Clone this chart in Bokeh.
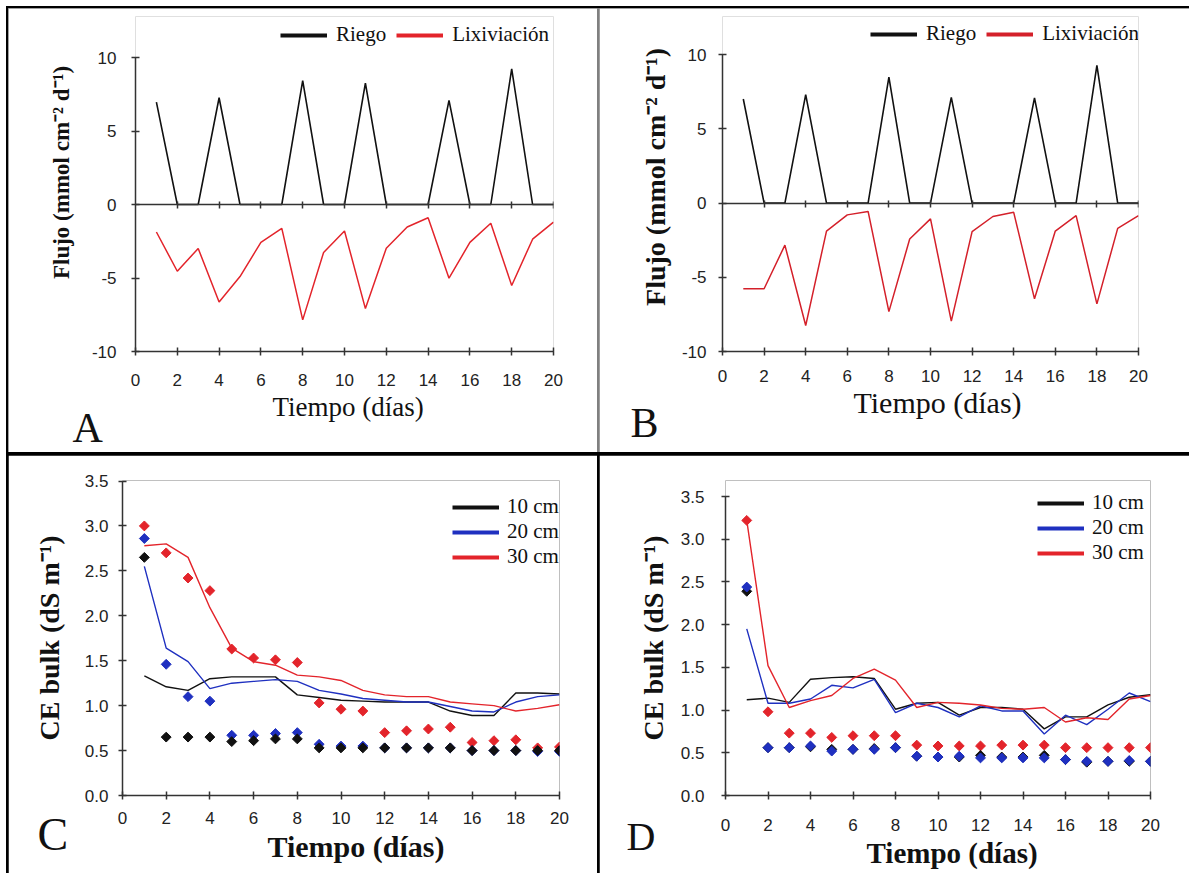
from bokeh.plotting import figure
from bokeh.models import (Range1d, LinearAxis, FixedTicker, Legend, LegendItem, Title,
                          NumeralTickFormatter, PrintfTickFormatter)
from bokeh.layouts import row, column
from bokeh.embed import file_html
from bokeh.resources import INLINE

# ---------------- data ----------------
days = list(range(1, 21))

riego_A = [6.97, 0, 0, 7.26, 0, 0, 0, 8.43, 0, 0, 8.25, 0, 0, 0, 7.08, 0, 0, 9.22, 0, 0]
lix_A = [-1.87, -4.54, -2.99, -6.63, -4.90, -2.58, -1.62, -7.85, -3.26, -1.80,
         -7.08, -2.97, -1.53, -0.90, -5.01, -2.58, -1.28, -5.51, -2.36, -1.20]

riego_B = [7.02, 0, 0, 7.31, 0, 0, 0, 8.49, 0, 0, 7.13, 0, 0, 0, 7.10, 0, 0, 9.28, 0, 0]
lix_B = [-5.77, -5.77, -2.83, -8.25, -1.88, -0.79, -0.56, -7.31, -2.42, -1.06,
         -7.95, -1.92, -0.90, -0.62, -6.45, -1.88, -0.84, -6.79, -1.70, -0.84]

C10_line = [1.33, 1.21, 1.17, 1.30, 1.32, 1.32, 1.32, 1.12, 1.09, 1.06, 1.05, 1.04, 1.04, 1.04, 0.94, 0.89, 0.89, 1.14, 1.14, 1.13]
C20_line = [2.55, 1.64, 1.49, 1.19, 1.25, 1.27, 1.29, 1.27, 1.17, 1.13, 1.08, 1.06, 1.04, 1.04, 0.99, 0.94, 0.93, 1.04, 1.10, 1.12]
C30_line = [2.78, 2.80, 2.65, 2.09, 1.64, 1.49, 1.45, 1.34, 1.32, 1.28, 1.17, 1.12, 1.10, 1.10, 1.04, 1.02, 1.00, 0.94, 0.97, 1.01]
C10_pts = [2.65, 0.65, 0.65, 0.65, 0.60, 0.61, 0.63, 0.63, 0.53, 0.53, 0.53, 0.53, 0.53, 0.53, 0.53, 0.50, 0.50, 0.50, 0.50, 0.50]
C20_pts = [2.86, 1.46, 1.10, 1.05, 0.67, 0.67, 0.69, 0.70, 0.57, 0.55, 0.55, 0.53, 0.53, 0.53, 0.53, 0.50, 0.50, 0.50, 0.49, 0.49]
C30_pts = [3.00, 2.70, 2.42, 2.28, 1.63, 1.53, 1.51, 1.48, 1.03, 0.96, 0.94, 0.70, 0.72, 0.74, 0.76, 0.59, 0.61, 0.62, 0.53, 0.54]

D10_line = [1.12, 1.14, 1.09, 1.36, 1.38, 1.39, 1.37, 1.01, 1.08, 1.09, 0.94, 1.03, 1.03, 1.01, 0.78, 0.92, 0.92, 1.06, 1.15, 1.18]
D20_line = [1.95, 1.08, 1.08, 1.13, 1.29, 1.26, 1.36, 0.97, 1.08, 1.03, 0.92, 1.05, 0.99, 0.99, 0.72, 0.94, 0.83, 1.01, 1.20, 1.10]
D30_line = [3.22, 1.52, 1.03, 1.11, 1.17, 1.37, 1.48, 1.35, 1.03, 1.09, 1.08, 1.06, 1.02, 1.01, 1.03, 0.86, 0.91, 0.89, 1.13, 1.17]
D10_pts = [2.39, 0.56, 0.56, 0.57, 0.54, 0.54, 0.55, 0.56, 0.46, 0.45, 0.45, 0.47, 0.45, 0.45, 0.47, 0.42, 0.39, 0.40, 0.40, 0.40]
D20_pts = [2.44, 0.56, 0.56, 0.58, 0.52, 0.54, 0.54, 0.56, 0.46, 0.45, 0.46, 0.44, 0.44, 0.44, 0.44, 0.42, 0.40, 0.40, 0.41, 0.40]
D30_pts = [3.22, 0.98, 0.73, 0.73, 0.68, 0.70, 0.70, 0.70, 0.59, 0.58, 0.58, 0.58, 0.59, 0.59, 0.59, 0.56, 0.56, 0.56, 0.56, 0.56]

x_ticks = [0, 2, 4, 6, 8, 10, 12, 14, 16, 18, 20]
flux_ticks = [-10, -5, 0, 5, 10]
ce_ticks = [0.0, 0.5, 1.0, 1.5, 2.0, 2.5, 3.0, 3.5]
depth_labels = ["10 cm", "20 cm", "30 cm"]
flux_labels = ["Riego", "Lixiviación"]
x_title = "Tiempo (días)"

SERIF = "Liberation Serif"
SANS = "Liberation Sans"
BLACK = "#111111"
RED = "#e3242b"
BLUE = "#1f30c0"
AX = "#333333"
NB = "\u00a0"


def y_range_for(frame_top, frame_bottom, v_top, px_top, v_bot, px_bot):
    scale = (px_bot - px_top) / (v_top - v_bot)
    return (v_bot - (frame_bottom - px_bot) / scale, v_top + (px_top - frame_top) / scale)


def make_fig(w, h, left, right, top, bottom, yr):
    p = figure(width=w, height=h, min_border_left=left, min_border_right=right,
               min_border_top=top, min_border_bottom=bottom,
               x_range=Range1d(0, 20), y_range=Range1d(*yr),
               output_backend="svg", toolbar_location=None, tools="")
    p.xgrid.visible = False
    p.ygrid.visible = False
    p.outline_line_color = None
    p.background_fill_color = "white"
    p.border_fill_color = "white"
    for ax in (p.xaxis[0], p.yaxis[0]):
        ax.axis_line_color = AX
        ax.axis_line_width = 1.5
        ax.major_tick_line_color = AX
        ax.major_tick_line_width = 1.5
        ax.major_tick_in = 4
        ax.major_tick_out = 4
        ax.minor_tick_line_color = None
        ax.major_label_text_font = SANS
        ax.major_label_text_font_size = "17px"
        ax.major_label_text_color = "#222222"
        ax.axis_label_text_font = SERIF
        ax.axis_label_text_color = "#111111"
    p.xaxis[0].ticker = FixedTicker(ticks=x_ticks)
    return p


def add_title(p, txt, fs, style, offset, standoff):
    p.add_layout(Title(text=txt, align="left", offset=offset, standoff=standoff,
                       vertical_align="top", text_font=SERIF, text_font_size=fs,
                       text_font_style=style, text_color="#111111"), "below")


def flux_panel(w, h, left, right, top, bottom, px_top, px_bot, riego, lix, red,
               ylab, ylab_fs, ylab_standoff, ytick_standoff, xtick_standoff,
               xlab_fs, xlab_offset, xlab_so, leg_loc, letter, letter_offset, letter_so):
    yr = y_range_for(top, h - bottom, 10, px_top, -10, px_bot)
    p = make_fig(w, h, left, right, top, bottom, yr)
    ya, xa = p.yaxis[0], p.xaxis[0]
    ya.ticker = FixedTicker(ticks=flux_ticks)
    ya.formatter = PrintfTickFormatter(format="%d")
    ya.bounds = (-10, 10)
    ya.axis_label = ylab
    ya.axis_label_text_font_size = ylab_fs
    ya.axis_label_text_font_style = "bold"
    ya.axis_label_standoff = ylab_standoff
    ya.major_label_standoff = ytick_standoff
    xa.major_label_standoff = xtick_standoff
    zero = LinearAxis(fixed_location=0, ticker=FixedTicker(ticks=x_ticks[1:]),
                      major_label_text_font_size="1px", major_label_text_color=None,
                      major_label_standoff=0,
                      axis_line_color=AX, axis_line_width=1.5,
                      major_tick_line_color=AX, major_tick_line_width=1.5,
                      major_tick_in=3, major_tick_out=4, minor_tick_line_color=None)
    p.add_layout(zero, "below")
    add_title(p, x_title, xlab_fs, "normal", xlab_offset, xlab_so)
    add_title(p, letter, "42px", "normal", letter_offset, letter_so)
    p.line(days, riego, line_color=BLACK, line_width=1.6)
    p.line(days, lix, line_color=red, line_width=1.5)
    g1 = p.line(days, riego, line_color=BLACK, line_width=4, visible=False)
    g2 = p.line(days, lix, line_color=red, line_width=4, visible=False)
    leg = Legend(items=[LegendItem(label=flux_labels[0], renderers=[g1]),
                        LegendItem(label=flux_labels[1], renderers=[g2])],
                 orientation="horizontal", location=leg_loc, padding=0, margin=0,
                 spacing=10, glyph_width=47, glyph_height=24, label_standoff=9,
                 background_fill_alpha=0, border_line_color=None,
                 inactive_fill_alpha=0,
                 label_text_font=SERIF, label_text_font_size="21px",
                 label_text_color="#111111")
    p.add_layout(leg)
    return p


def ce_panel(w, h, left, right, top, bottom, px_top, px_bot, lines, pts, draw_order,
             ylab_standoff, ytick_standoff, xtick_standoff, xlab_fs, xlab_offset, xlab_so,
             leg_loc, letter, letter_fs, letter_offset, letter_so):
    yr = y_range_for(top, h - bottom, 3.5, px_top, 0.0, px_bot)
    p = make_fig(w, h, left, right, top, bottom, yr)
    ya, xa = p.yaxis[0], p.xaxis[0]
    ya.ticker = FixedTicker(ticks=ce_ticks)
    ya.formatter = NumeralTickFormatter(format="0.0")
    ya.bounds = (0, 3.5)
    ya.axis_label = "CE bulk (dS m⁻¹)"
    ya.axis_label_text_font_size = "28px"
    ya.axis_label_text_font_style = "bold"
    ya.axis_label_standoff = ylab_standoff
    ya.major_label_standoff = ytick_standoff
    xa.major_label_standoff = xtick_standoff
    add_title(p, letter, letter_fs, "normal", letter_offset, letter_so)
    add_title(p, x_title, xlab_fs, "bold", xlab_offset, xlab_so)
    cols = [BLACK, BLUE, RED]
    for vals, c in zip(lines, cols):
        p.line(days, vals, line_color=c, line_width=1.4)
    for i in draw_order:
        p.scatter(days, pts[i], marker="square", angle=0.785398, size=7,
                  fill_color=cols[i], line_color=cols[i], line_width=1)
    gl = [p.line(days, vals, line_color=c, line_width=4, visible=False)
          for vals, c in zip(lines, cols)]
    leg = Legend(items=[LegendItem(label=t, renderers=[g]) for t, g in zip(depth_labels, gl)],
                 orientation="vertical", location=leg_loc, padding=0, margin=0,
                 spacing=0, glyph_width=47, glyph_height=24, label_standoff=8,
                 background_fill_alpha=0, border_line_color=None, inactive_fill_alpha=0,
                 label_text_font=SERIF, label_text_font_size="21px",
                 label_text_color="#111111")
    p.add_layout(leg)
    return p


# row 1: common borders top 8 / bottom 101 (frame 8..343 in figure pixels)
pA = flux_panel(589, 444, 127, 44, 8, 101, 49, 343, riego_A, lix_A, RED,
                NB * 4 + "Flujo (mmol cm⁻² d⁻¹)", "23px", 15, 15, 18,
                "27px", 137, 6, (145, 304), "A", -63, -44)
pB = flux_panel(590, 444, 123, 51, 8, 101, 46.3, 343, riego_B, lix_B, "#d4202a",
                NB * 2 + "Flujo (mmol cm⁻² d⁻¹)", "28px", 8, 12, 14,
                "30px", 131, 2, (148, 305), "B", -92, -44)
# row 2: common borders top 25 / bottom 78 (frame 25..340)
pC = ce_panel(589, 418, 114, 38, 25, 78, 25.5, 340,
              [C10_line, C20_line, C30_line], [C10_pts, C20_pts, C30_pts], [2, 1, 0],
              17, 10, 12, "30px", 145, -30, (330, 226), "C", "46px", -85, -35)
pD = ce_panel(590, 418, 126, 39, 25, 78, 41, 340,
              [D10_line, D20_line, D30_line], [D10_pts, D20_pts, D30_pts], [2, 0, 1],
              9, 17, 19, "29px", 141, -8, (312, 230), "D", "40px", -99, -40)

top = row(pA, pB, spacing=2, styles={"background-color": "#808080"})
bot = row(pC, pD, spacing=2, styles={"background-color": "#000000"})
lay = column(top, bot, spacing=3,
             styles={"background-color": "#000000", "padding-top": "2px",
                     "padding-left": "2px", "margin-top": "6px", "margin-left": "6px"})

open("out.html", "w").write(file_html(lay, INLINE))
